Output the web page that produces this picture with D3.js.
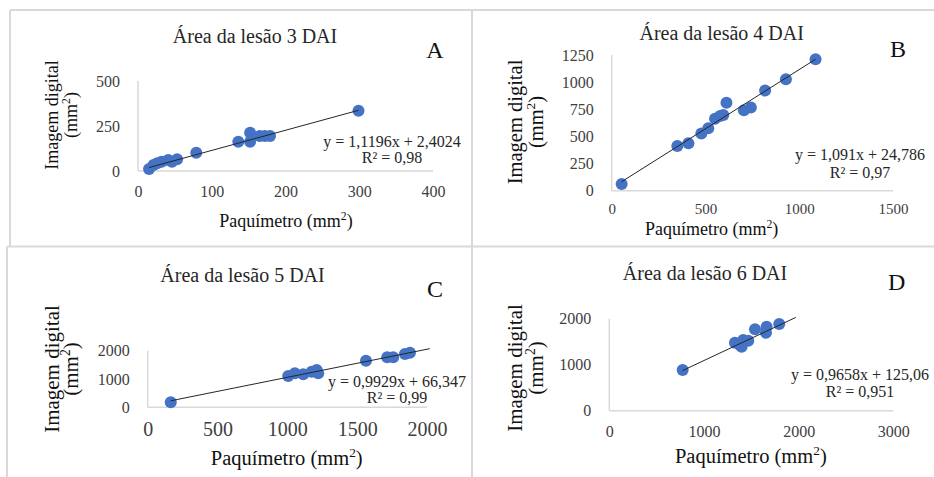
<!DOCTYPE html>
<html>
<head>
<meta charset="utf-8">
<script src="https://cdn.jsdelivr.net/npm/d3@7"></script>
<style>
  body { margin: 0; background: #fff; }
  svg { display: block; }
</style>
</head>
<body>
<div id="chart"></div>
<script>
/** panel A: 3 DAI */
const paqA = [15, 21, 26, 32, 41, 46, 53, 79, 136, 152, 152, 165, 172, 179, 299];
const imgA = [11, 33, 43, 52, 61, 52, 65, 102, 163, 213, 163, 194, 194, 194, 335];
/** panel B: 4 DAI */
const paqB = [53, 350, 409, 478, 515, 551, 578, 595, 612, 705, 742, 818, 929, 1087];
const imgB = [62, 412, 437, 526, 575, 662, 688, 698, 811, 740, 767, 922, 1027, 1211];
/** panel C: 5 DAI */
const paqC = [165, 1006, 1054, 1114, 1174, 1210, 1221, 1563, 1715, 1758, 1842, 1878];
const imgC = [177, 1106, 1201, 1166, 1258, 1318, 1201, 1647, 1767, 1767, 1883, 1929];
/** panel D: 6 DAI */
const paqD = [775, 1327, 1380, 1398, 1415, 1468, 1539, 1655, 1662, 1795];
const imgD = [885, 1478, 1428, 1391, 1537, 1522, 1770, 1696, 1826, 1885];

/** trend lines as printed on each panel */
const slopes = [1.1196, 1.091, 0.9929, 0.9658];
const intercepts = [2.4024, 24.786, 66.347, 125.06];
const lineEnds = [299, 1087, 2020, 1970];
const equations = [
  "y = 1,1196x + 2,4024",
  "y = 1,091x + 24,786",
  "y = 0,9929x + 66,347",
  "y = 0,9658x + 125,06",
];
const r2 = ["R² = 0,98", "R² = 0,97", "R² = 0,99", "R² = 0,951"];

/** labels and ticks */
const titles = ["Área da lesão 3 DAI", "Área da lesão 4 DAI", "Área da lesão 5 DAI", "Área da lesão 6 DAI"];
const letters = ["A", "B", "C", "D"];
const xTicks = [[0, 100, 200, 300, 400], [0, 500, 1000, 1500], [0, 500, 1000, 1500, 2000], [0, 1000, 2000, 3000]];
const yTicks = [[0, 250, 500], [0, 250, 500, 750, 1000, 1250], [0, 1000, 2000], [0, 1000, 2000]];

/** layout (pixels) */
const layout = [
  { x: [138, 433], y: [171, 81], title: [255, 43], letter: [435, 58], yT: [52, 72, 115, 18], xT: [286, 227, 18], eq: [392, 147, 163], tx: 16, pad: 15 },
  { x: [611.7, 893], y: [190.7, 55], title: [721.7, 40], letter: [898, 57], yT: [515, 537, 122, 20.5], xT: [711.7, 235, 18], eq: [860, 160, 178], tx: 15, pad: 13 },
  { x: [147.7, 427], y: [407.3, 350.7], title: [242.5, 281.7], letter: [435, 296.7], yT: [52, 72, 369, 21], xT: [286.7, 465, 20.5], eq: [397, 386.7, 403], tx: 20, pad: 15 },
  { x: [609.3, 893.3], y: [410.7, 318.7], title: [705, 280], letter: [896.7, 290], yT: [515, 537, 368, 21], xT: [750.8, 463, 20.5], eq: [860, 380, 396.7], tx: 16, pad: 15 },
];

const series = [[paqA, imgA], [paqB, imgB], [paqC, imgC], [paqD, imgD]];
const font = "'Liberation Serif', 'Times New Roman', serif";
const grid = "#d9d9d9";
const dot = "#4472c4";

const svg = d3.select("#chart").append("svg")
  .attr("width", 934).attr("height", 477)
  .attr("font-family", font);

/** panel borders */
const borders = [
  [10, 10, 934, 10], [10, 10, 10, 246], [472, 10, 472, 477],
  [7, 246.5, 934, 246.5], [7, 246.5, 7, 477],
];
svg.selectAll("line.border").data(borders).join("line")
  .attr("x1", (d) => d[0]).attr("y1", (d) => d[1])
  .attr("x2", (d) => d[2]).attr("y2", (d) => d[3])
  .attr("stroke", grid).attr("stroke-width", 2);

series.forEach(([xs, ys], i) => {
  const L = layout[i];
  const xt = xTicks[i], yt = yTicks[i];
  const x = d3.scaleLinear().domain([0, xt[xt.length - 1]]).range(L.x);
  const y = d3.scaleLinear().domain([0, yt[yt.length - 1]]).range(L.y);
  const g = svg.append("g");

  /** axes */
  const gx = g.append("g").attr("transform", `translate(0,${L.y[0]})`)
    .call(d3.axisBottom(x).tickValues(xt).tickSize(0).tickPadding(L.pad).tickFormat(d3.format("d")));
  const gy = g.append("g").attr("transform", `translate(${L.x[0]},0)`)
    .call(d3.axisLeft(y).tickValues(yt).tickSize(0).tickPadding(18).tickFormat(d3.format("d")));
  gx.select(".domain").remove();
  gy.select(".domain").remove();
  gx.attr("font-family", font).attr("font-size", L.tx).selectAll("text").attr("fill", "#404040");
  gy.attr("font-family", font).attr("font-size", 16).selectAll("text").attr("fill", "#404040");
  g.append("line").attr("x1", L.x[0]).attr("x2", L.x[1]).attr("y1", L.y[0]).attr("y2", L.y[0])
    .attr("stroke", grid).attr("stroke-width", 1.5);
  g.append("line").attr("x1", L.x[0]).attr("x2", L.x[0]).attr("y1", L.y[0]).attr("y2", L.y[1])
    .attr("stroke", grid).attr("stroke-width", 1.5);

  /** points */
  g.selectAll("circle").data(d3.zip(xs, ys)).join("circle")
    .attr("cx", (d) => x(d[0])).attr("cy", (d) => y(d[1]))
    .attr("r", 6).attr("fill", dot);

  /** trend line */
  const x0 = d3.min(xs), x1 = lineEnds[i];
  g.append("line")
    .attr("x1", x(x0)).attr("y1", y(slopes[i] * x0 + intercepts[i]))
    .attr("x2", x(x1)).attr("y2", y(slopes[i] * x1 + intercepts[i]))
    .attr("stroke", "#262626").attr("stroke-width", 1);

  /** title and letter */
  g.append("text").text(titles[i]).attr("x", L.title[0]).attr("y", L.title[1])
    .attr("text-anchor", "middle").attr("font-size", 20).attr("fill", "#262626");
  g.append("text").text(letters[i]).attr("x", L.letter[0]).attr("y", L.letter[1])
    .attr("text-anchor", "middle").attr("font-size", 24).attr("fill", "#111");

  /** equation */
  g.append("text").text(equations[i]).attr("x", L.eq[0]).attr("y", L.eq[1])
    .attr("text-anchor", "middle").attr("font-size", 16).attr("fill", "#262626");
  g.append("text").text(r2[i]).attr("x", L.eq[0]).attr("y", L.eq[2])
    .attr("text-anchor", "middle").attr("font-size", 16).attr("fill", "#262626");

  /** y title, two rotated lines */
  const [c1, c2, cy, fs] = L.yT;
  g.append("text").text("Imagem digital")
    .attr("transform", `translate(${c1 + fs * 0.33},${cy}) rotate(-90)`)
    .attr("text-anchor", "middle").attr("font-size", fs).attr("fill", "#111");
  const mm = g.append("text")
    .attr("transform", `translate(${c2 + fs * 0.3},${cy}) rotate(-90)`)
    .attr("text-anchor", "middle").attr("font-size", fs).attr("fill", "#111");
  mm.append("tspan").text("(mm");
  mm.append("tspan").text("2").attr("font-size", fs * 0.65).attr("dy", -fs * 0.4);
  mm.append("tspan").text(")").attr("dy", fs * 0.4);

  /** x title */
  const [tx, ty, tfs] = L.xT;
  const xt2 = g.append("text").attr("x", tx).attr("y", ty)
    .attr("text-anchor", "middle").attr("font-size", tfs).attr("fill", "#111");
  xt2.append("tspan").text("Paquímetro (mm");
  xt2.append("tspan").text("2").attr("font-size", tfs * 0.65).attr("dy", -tfs * 0.4);
  xt2.append("tspan").text(")").attr("dy", tfs * 0.4);
});
</script>
</body>
</html>
